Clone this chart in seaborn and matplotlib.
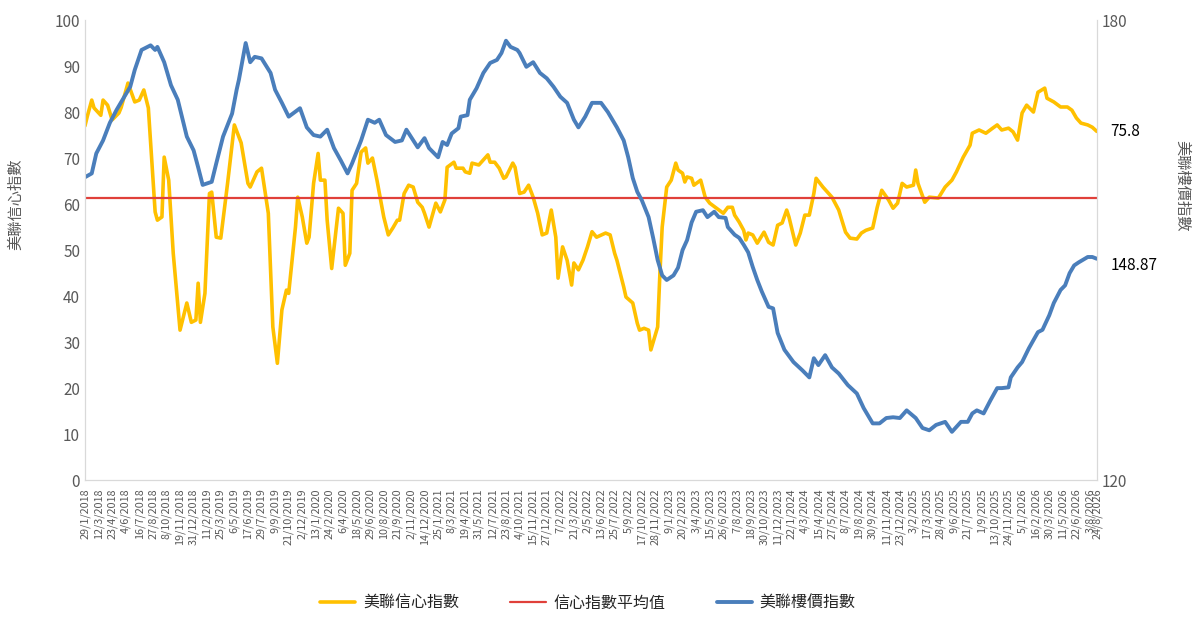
import matplotlib
matplotlib.use("Agg")
import matplotlib.pyplot as plt
import seaborn as sns
import pandas as pd

sns.set_style("white")
plt.rcParams['font.family'] = ['Noto Sans CJK TC', 'DejaVu Sans']

start = pd.Timestamp("2018-01-29")
end = pd.Timestamp("2026-08-24")

# weeks after 29/1/2018 and the values
conf_weeks = [0, 1, 3, 4, 7, 8, 10, 12, 15, 16, 19, 22, 24, 26, 28, 31, 32, 34, 35, 37,
              39, 42, 45, 47, 49, 50, 51, 53, 55, 56, 58, 60, 63, 66, 69, 72, 73, 76, 78, 79,
              81, 83, 85, 87, 89, 90, 93, 94, 96, 98, 99, 101, 103, 104, 106, 107, 109, 112, 114, 115,
              117, 118, 120, 122, 124, 125, 127, 129, 132, 134, 136, 138, 139, 141, 143, 145, 147, 149, 150, 152,
              155, 157, 159, 160, 163, 164, 167, 168, 170, 171, 174, 178, 179, 181, 183, 185, 186, 189, 190, 192,
              194, 196, 198, 200, 202, 204, 206, 208, 209, 211, 213, 215, 216, 218, 220, 222, 224, 226, 230, 232,
              234, 235, 238, 239, 242, 244, 245, 247, 249, 250, 253, 254, 255, 257, 259, 261, 262, 264, 265, 266,
              268, 269, 272, 274, 276, 279, 282, 284, 286, 287, 289, 291, 292, 293, 295, 297, 298, 300, 302, 304,
              306, 308, 310, 311, 314, 316, 318, 320, 322, 323, 326, 328, 330, 333, 336, 338, 341, 343, 345, 348,
              350, 352, 355, 357, 359, 361, 363, 366, 367, 368, 371, 373, 377, 380, 383, 385, 388, 391, 392, 395,
              398, 401, 403, 405, 408, 410, 412, 414, 416, 419, 421, 424, 425, 428, 431, 434, 436, 438, 440, 443,
              445, 447]
conf_values = [77, 79, 82.6, 80.9, 79.3, 82.6, 81.5, 78.3, 79.8, 81, 86.3, 82.2, 82.6, 84.8, 80.9, 58.3, 56.5, 57.2, 70.2, 65.2,
               49.3, 32.6, 38.5, 34.3, 34.8, 42.8, 34.3, 40.6, 62.3, 62.6, 52.8, 52.6, 64.5, 77.2, 73.3, 64.5, 63.7, 67, 67.8, 64.5,
               58, 33.3, 25.4, 37, 41.3, 40.6, 55, 61.5, 57.2, 51.5, 52.8, 64.5, 71, 65.2, 65.2, 56.5, 46, 59.1, 58, 46.7,
               49.3, 63, 64.5, 71.3, 72.2, 68.9, 70, 65.2, 57.2, 53.3, 54.8, 56.5, 56.5, 62.3, 64.1, 63.7, 60.4, 59.3, 58, 55,
               60.2, 58.3, 60.9, 68, 69.1, 67.8, 67.8, 67, 66.7, 68.9, 68.5, 70.7, 69.1, 69.1, 67.8, 65.6, 65.9, 68.9, 68, 62.3,
               62.6, 64.1, 61.5, 58, 53.3, 53.7, 58.7, 52.8, 43.9, 50.7, 47.8, 42.4, 47.2, 45.7, 47.8, 50.7, 54, 52.8, 53.7, 53.3,
               49.3, 47.8, 42, 39.8, 38.5, 34.1, 32.6, 33, 32.6, 28.3, 33.3, 45, 55, 63.7, 65.2, 68.9, 67.4, 66.7, 64.8, 65.9,
               65.6, 64.1, 65.2, 61.5, 60.2, 59.1, 58, 59.3, 59.3, 57.6, 56.1, 54.3, 52.2, 53.7, 53.3, 51.5, 52.3, 53.9, 51.7, 51.1,
               55.4, 55.9, 58.7, 57.2, 51.1, 53.7, 57.6, 57.6, 62.3, 65.6, 63.7, 62.6, 61.5, 58.7, 53.9, 52.6, 52.4, 53.7, 54.3, 54.8,
               59.3, 63, 60.9, 59.1, 60.2, 64.5, 63.7, 64.1, 67.4, 64.5, 60.4, 61.5, 61.3, 63.7, 65.2, 67, 70.2, 72.8, 75.4, 76.1,
               75.4, 76.5, 77.2, 76.1, 76.5, 75.7, 73.9, 79.8, 81.5, 80, 84.3, 85.2, 83, 82.2, 81.1, 81.1, 80.4, 78.7, 77.6, 77.2,
               76.7, 75.8]

price_weeks = [0, 3, 5, 8, 11, 14, 17, 20, 22, 25, 29, 31, 32, 35, 38, 41, 45, 48, 50, 52,
               56, 58, 61, 65, 67, 68, 71, 73, 75, 78, 82, 84, 87, 90, 95, 98, 101, 104, 107, 110,
               113, 116, 118, 122, 125, 128, 130, 133, 137, 140, 142, 147, 150, 152, 156, 158, 160, 162, 165, 166,
               169, 170, 173, 176, 179, 182, 184, 186, 188, 191, 192, 195, 198, 201, 204, 207, 210, 213, 216, 218,
               221, 224, 228, 231, 233, 235, 238, 240, 242, 244, 246, 249, 251, 253, 255, 257, 260, 262, 264, 266,
               268, 270, 273, 275, 278, 280, 283, 284, 287, 289, 291, 293, 295, 297, 299, 302, 304, 306, 309, 313,
               317, 320, 322, 324, 327, 330, 333, 337, 341, 344, 348, 351, 354, 357, 360, 363, 367, 370, 373, 376,
               380, 383, 387, 390, 392, 394, 397, 400, 403, 405, 408, 409, 412, 414, 417, 421, 423, 426, 428, 431,
               433, 435, 437, 439, 443, 445, 447]
price_values = [159.5, 160, 162.6, 164.3, 166.6, 168.3, 169.8, 171.3, 173.5, 176.1, 176.7, 176.1, 176.5, 174.5, 171.5, 169.6, 164.8, 163, 160.8, 158.5,
                158.9, 161.3, 164.8, 167.8, 170.9, 172.2, 177, 174.5, 175.2, 175, 173.1, 170.9, 169.2, 167.4, 168.5, 166, 165, 164.8, 165.7, 163.3,
                161.7, 160, 161.3, 164.3, 167, 166.6, 167, 165, 164.1, 164.3, 165.7, 163.4, 164.6, 163.3, 162.1, 164.1, 163.7, 165.2, 165.9, 167.4,
                167.6, 169.6, 171.1, 173.1, 174.4, 174.8, 175.7, 177.3, 176.5, 176.1, 175.7, 173.9, 174.5, 173.1, 172.4, 171.3, 170, 169.2, 167, 166,
                167.4, 169.2, 169.2, 168, 167, 166, 164.3, 162.1, 159.4, 157.6, 156.5, 154.3, 151.6, 148.7, 146.7, 146.1, 146.7, 147.7, 150, 151.3,
                153.6, 155, 155.2, 154.3, 155, 154.3, 154.2, 153, 152, 151.6, 150.7, 149.7, 147.8, 146.1, 144.6, 142.6, 142.4, 139.2, 137, 135.4,
                134.3, 133.4, 135.9, 135, 136.3, 134.7, 133.9, 132.4, 131.3, 129.4, 127.4, 127.4, 128.1, 128.2, 128.1, 129.1, 128.1, 126.8, 126.5, 127.2,
                127.6, 126.3, 127.6, 127.6, 128.7, 129.1, 128.7, 130.4, 132, 132, 132.1, 133.4, 134.7, 135.4, 137.2, 139.3, 139.6, 141.5, 143.1, 144.8,
                145.4, 147, 148, 148.4, 149.1, 149.1, 148.87]

conf_avg = 61.3

conf = pd.DataFrame({"date": start + pd.to_timedelta([w * 7 for w in conf_weeks], unit="D"),
                     "value": conf_values})
price = pd.DataFrame({"date": start + pd.to_timedelta([w * 7 for w in price_weeks], unit="D"),
                      "value": price_values})

yellow = "#FFC000"
blue = "#4A7EBB"
red = "#E0403A"
grey = "#595959"
axis_col = "#D9D9D9"

fig, ax = plt.subplots(figsize=(12, 6.26), dpi=100)
fig.subplots_adjust(left=0.0708, right=0.914, top=0.968, bottom=0.233)
ax2 = ax.twinx()

sns.lineplot(data=conf, x="date", y="value", ax=ax, color=yellow, linewidth=2.6, label="美聯信心指數", legend=False)
avg_line = ax.axhline(conf_avg, color=red, linewidth=1.6, label="信心指數平均值")
sns.lineplot(data=price, x="date", y="value", ax=ax2, color=blue, linewidth=2.8, label="美聯樓價指數", legend=False)

ax.set_xlim(start, end)
ax.set_ylim(0, 100)
ax.set_yticks(range(0, 101, 10))
ax2.set_ylim(120, 180)
ax2.set_yticks([120, 180])

ticks = list(pd.date_range(start, "2026-08-03", freq="42D")) + [end]
ax.set_xticks(ticks)
ax.set_xticklabels([f"{d.day}/{d.month}/{d.year}" for d in ticks], rotation=90, fontsize=7.8, color=grey)

for a in (ax, ax2):
    for s in a.spines.values():
        s.set_color(axis_col)
    a.spines["top"].set_visible(False)
ax.tick_params(axis="y", labelsize=11, colors=grey, length=0)
ax2.tick_params(axis="y", labelsize=11, colors=grey, length=0)
ax.tick_params(axis="x", length=4, color=axis_col, pad=2)

ax.set_xlabel("")
ax.set_ylabel("美聯信心指數", fontsize=11, color=grey)
ax.yaxis.set_label_coords(-0.06, 0.6)
ax2.set_ylabel("美聯樓價指數", fontsize=11, color=grey, rotation=270)
ax2.yaxis.set_label_coords(1.093, 0.64)

ax.annotate(f"{conf_values[-1]}", xy=(conf["date"].iloc[-1], conf_values[-1]), xytext=(10, 0),
            textcoords="offset points", va="center", fontsize=11, color="black", annotation_clip=False)
ax2.annotate(f"{price_values[-1]}", xy=(price["date"].iloc[-1], price_values[-1]), xytext=(10, -5),
             textcoords="offset points", va="center", fontsize=11, color="black", annotation_clip=False)

handles = ax.get_lines()[:1] + [avg_line] + ax2.get_lines()[:1]
labels = ["美聯信心指數", "信心指數平均值", "美聯樓價指數"]
fig.legend(handles, labels, loc="lower center", ncol=3, frameon=False, fontsize=11.5,
           bbox_to_anchor=(0.49, 0.0), handlelength=2.2, handletextpad=0.5, columnspacing=3.2)

fig.savefig("out.png", dpi=100)
